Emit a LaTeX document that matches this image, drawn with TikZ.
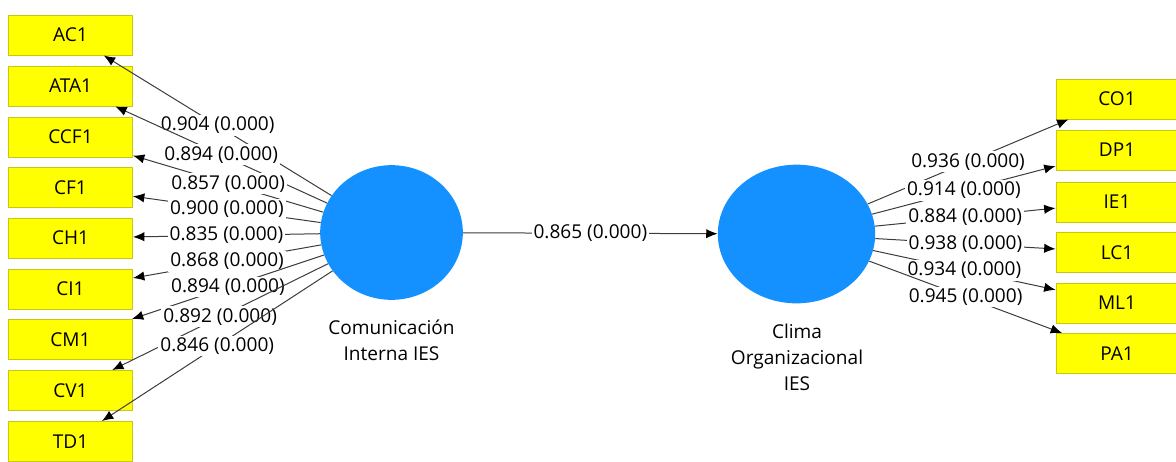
\documentclass[tikz,border=0pt]{standalone}
\usepackage{fontspec}
\setmainfont{Open Sans}
\usetikzlibrary{shapes.geometric,arrows.meta}
\definecolor{boxyellow}{RGB}{255,255,0}
\definecolor{boxedge}{RGB}{200,200,20}
\definecolor{latblue}{RGB}{20,145,255}
\definecolor{pathgray}{RGB}{60,60,60}

\begin{document}
\begin{tikzpicture}
    [x=0.75pt,y=-0.75pt,
     every node/.style={font=\fontsize{14.3}{19.5}\selectfont},
     ind/.style={rectangle,draw=boxedge,line width=0.75pt,fill=boxyellow,
       minimum width=93pt,minimum height=30pt,inner sep=0pt},
     lat/.style={ellipse,fill=latblue,inner sep=0pt},
     val/.style={fill=white,inner sep=1.5pt},
     lnk/.style={draw=pathgray,line width=0.75pt,
       -{Latex[length=8.5pt,width=7pt,color=black]}}]
    \useasboundingbox (0,0) rectangle (1176,461);

    % constructs
    \node[lat,minimum width=107pt,minimum height=101pt] (l1) at (391.5,232.5) {};
    \node[lat,minimum width=118pt,minimum height=104pt] (l2) at (796.5,234) {};
    \node[align=center] at (391.5,340) {Comunicación\\Interna IES};
    \node[align=center] at (797,357) {Clima\\Organizacional\\IES};

    % indicators left
    \node[ind] (a1) at (70.5,35) {AC1};
    \node[ind] (a2) at (70.5,86) {ATA1};
    \node[ind] (a3) at (70.5,137) {CCF1};
    \node[ind] (a4) at (70.5,187.5) {CF1};
    \node[ind] (a5) at (70.5,238) {CH1};
    \node[ind] (a6) at (70.5,289) {CI1};
    \node[ind] (a7) at (70.5,339.5) {CM1};
    \node[ind] (a8) at (70.5,390.5) {CV1};
    \node[ind] (a9) at (70.5,441.5) {TD1};

    % indicators right
    \node[ind,minimum width=91.5pt] (b1) at (1117,99) {CO1};
    \node[ind,minimum width=91.5pt] (b2) at (1117,150) {DP1};
    \node[ind,minimum width=91.5pt] (b3) at (1117,202) {IE1};
    \node[ind,minimum width=91.5pt] (b4) at (1117,252.5) {LC1};
    \node[ind,minimum width=91.5pt] (b5) at (1117,303) {ML1};
    \node[ind,minimum width=91.5pt] (b6) at (1117,353.5) {PA1};

    \draw[lnk] (l1) -- node[val] {0.904 (0.000)} (a1);
    \draw[lnk] (l1) -- node[val] {0.894 (0.000)} (a2);
    \draw[lnk] (l1) -- node[val] {0.857 (0.000)} (a3);
    \draw[lnk] (l1) -- node[val] {0.900 (0.000)} (a4);
    \draw[lnk] (l1) -- node[val] {0.835 (0.000)} (a5);
    \draw[lnk] (l1) -- node[val] {0.868 (0.000)} (a6);
    \draw[lnk] (l1) -- node[val] {0.894 (0.000)} (a7);
    \draw[lnk] (l1) -- node[val] {0.892 (0.000)} (a8);
    \draw[lnk] (l1) -- node[val] {0.846 (0.000)} (a9);

    \draw[lnk] (l1) -- node[val] {0.865 (0.000)} (l2);

    \draw[lnk] (l2) -- node[val] {0.936 (0.000)} (b1);
    \draw[lnk] (l2) -- node[val] {0.914 (0.000)} (b2);
    \draw[lnk] (l2) -- node[val] {0.884 (0.000)} (b3);
    \draw[lnk] (l2) -- node[val] {0.938 (0.000)} (b4);
    \draw[lnk] (l2) -- node[val] {0.934 (0.000)} (b5);
    \draw[lnk] (l2) -- node[val] {0.945 (0.000)} (b6);
  \end{tikzpicture}
\end{document}
